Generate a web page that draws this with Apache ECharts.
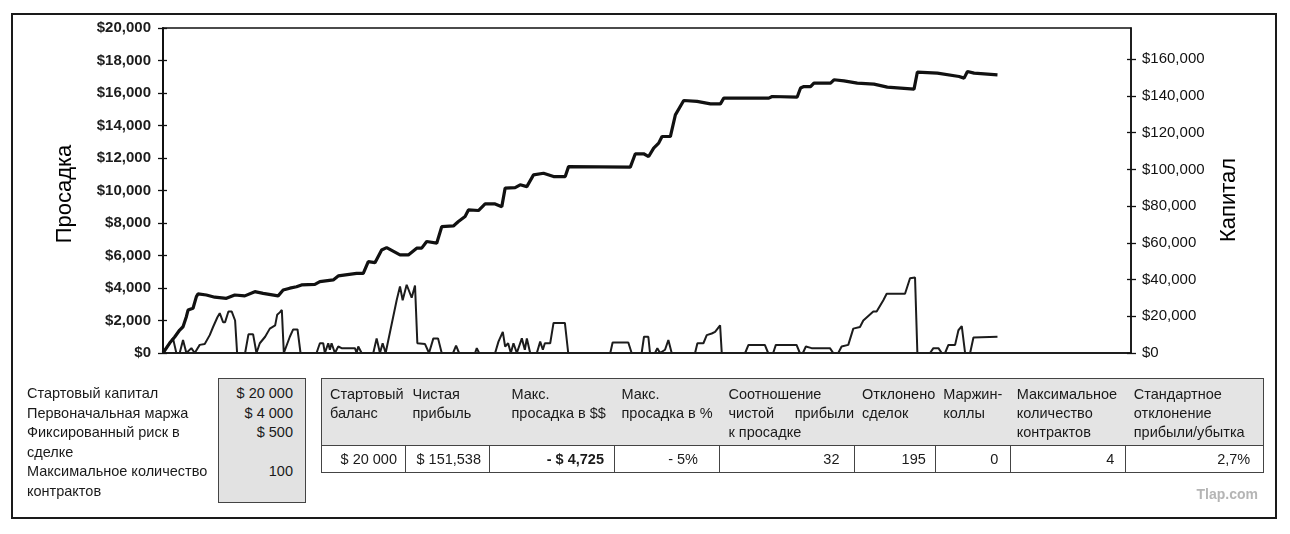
<!DOCTYPE html>
<html>
<head>
<meta charset="utf-8">
<script src="https://cdn.jsdelivr.net/npm/echarts@6/dist/echarts.min.js"></script>
<style>
  body { margin:0; background:#fff; font-family:"Liberation Sans", Arial, sans-serif; color:#1a1a1a; }
  #chartmain { position:absolute; left:0; top:0; width:1290px; height:534px; }
  #frame { position:absolute; left:11px; top:13px; width:1266px; height:506px; border:2px solid #1a1a1a; box-sizing:border-box; pointer-events:none; }
  #params { position:absolute; left:27px; top:384px; font-size:14.5px; line-height:19.6px; white-space:nowrap; }
  #paramBox { position:absolute; left:218px; top:378px; width:88px; height:125px; box-sizing:border-box; background:#e2e2e2; border:1px solid #444;
              padding:5px 12px 0 0; text-align:right; font-size:14.5px; line-height:19.6px; }
  #stats { position:absolute; left:321px; top:378px; border-collapse:collapse; table-layout:fixed; font-size:14.5px; }
  #stats th { background:#e4e4e4; border-top:1px solid #444; border-bottom:1px solid #444; font-weight:normal; text-align:left;
              vertical-align:top; padding:6px 0 0 8px; line-height:19px; height:60px; white-space:nowrap; }
  #stats td { border:1px solid #444; text-align:right; height:26px; padding:0; vertical-align:middle; white-space:nowrap; }
  #mark { position:absolute; right:32px; top:486px; font-size:14px; font-weight:bold; color:#b5b5b5; }
</style>
</head>
<body>
<div id="chartmain"></div>
<div id="params"></div>
<div id="paramBox"></div>
<table id="stats"></table>
<div id="mark">Tlap.com</div>
<div id="frame"></div>
<script>
// кривая капитала (правая ось): номер сделки / значение
var eqT = [0,2,3.5,5,6,7,7.5,9,10,10.5,13,15.5,19,21.5,24.5,27.5,30,34.5,36,38,40,41.5,45.5,47,51,52.5,58,60,61.5,63.5,
  65.5,67,71,73.5,76,77.5,79,82,83.5,87,88.5,90.5,91.5,94.5,96.5,99.5,101.5,102.5,105.5,107,109,111,114,117,120.5,121.5,140,141.5,144,145.5,
  147,148.5,149.5,152,153.5,156,160,164,167,168,181.5,182.5,190,191,192,194,195,200,201,204,208,213,217,225,225.5,226,232,238.5,240,241,243,250];
var eqV = [0,5400,8700,12500,14300,19800,23400,24400,30700,32200,31600,30400,29800,31600,31100,33400,32500,31100,34300,35300,
  36100,37100,37400,38900,39800,42000,43400,43400,49800,49200,56100,57400,53400,53400,57100,57100,60700,59800,68800,69200,
  71600,74300,77900,77600,81200,81200,79700,89800,90100,91600,90600,97000,97900,96100,96100,101500,101200,108500,108500,107000,
  111600,114300,117900,117900,129700,137500,137000,135700,135700,138800,138800,139700,139400,144300,145100,145100,147000,147000,148800,148200,
  147000,146400,144800,143700,143300,153000,152400,150600,149700,153300,152400,151500];

// просадка (левая ось)
var ddT = [0,2,3,4,5,6,7,8.5,9.5,11,12.5,14,15,16.3,17,18,18.6,19.6,20.6,21.6,22.2,24.6,25.6,27,28,29,30.6,32,33.6,34.2,
  35,35.6,36.2,38,39,40.3,41.2,46,47,48,48.5,49.5,50,50.5,51.5,52.5,53.5,57.5,58,58.5,59.5,63,64,65,65.8,66.7,70,71,71.8,73,
  74.5,75.5,76.2,78.5,79.7,81,82.4,83.5,86.9,87.8,88.7,93.5,94,94.7,99.5,100.5,101.8,102.5,103.4,104.2,
  105,106,107.5,108.4,109,110,112,113,113.8,114.4,116,117,120.4,121.4,134,134.7,139.4,140.4,143.4,144.1,
  145.4,145.9,147.4,148.1,148.9,150.4,151.4,152.4,159.4,160.1,161.9,162.9,164.4,165.4,166.9,167.4,174.4,175.4,180.3,181.3,
  182.8,183.6,189.8,190.8,191.7,192.6,194.3,199.8,200.8,202.3,203.3,205.3,206.8,208.8,209.8,212.8,213.8,215.8,216.8,222.3,
  223.8,225.3,226,229.8,230.8,232.3,233.3,234.3,235.3,237.3,238.3,239.3,239.8,240.3,241.8,242.8,243.3,250];
var ddV = [0,600,900,0,0,800,0,300,0,500,550,1100,1600,2200,2450,1900,1900,2550,2550,2000,
  0,0,1150,1150,0,600,1000,1500,1700,2350,2500,2650,0,1000,1450,1450,0,0,600,600,
  0,600,200,600,0,400,300,300,0,400,0,0,900,0,600,0,3250,4100,3250,4200,
  3400,4150,600,550,0,900,900,0,0,450,0,0,300,0,0,700,1300,400,600,0,
  600,0,900,200,900,0,0,700,200,600,600,1850,1850,0,0,650,650,0,0,1000,
  1000,0,0,300,0,200,800,0,0,600,600,1100,1200,1300,1700,0,0,500,500,0,
  0,500,500,0,0,400,300,300,0,0,400,500,1500,1600,2000,2550,2550,3250,3650,3650,
  4600,4650,0,0,300,300,0,0,500,500,1400,1650,1700,0,0,950,1000,1000];

// деления правой оси
var rightTicks = [0,20000,40000,60000,80000,100000,120000,140000,160000];

// таблицы
var paramNames = ['Стартовый капитал','Первоначальная маржа','Фиксированный риск в','сделке','Максимальное количество','контрактов'];
var paramVals = ['$ 20 000','$ 4 000','$ 500','','100',''];
var headCols = ['Стартовый\nбаланс','Чистая\nприбыль','Макс.\nпросадка в $$','Макс.\nпросадка в %','Соотношение\nчистой прибыли\nк просадке',
  'Отклонено\nсделок','Маржин-\nколлы','Максимальное\nколичество\nконтрактов','Стандартное\nотклонение\nприбыли/убытка'];
var rowVals = ['$ 20 000','$ 151,538','- $ 4,725','- 5%','32','195','0','4','2,7%'];
var colW = [84,84,125,105,134.5,80,75.5,115,138];

function zip(a,b){ var r=[]; for(var i=0;i<a.length;i++){ r.push([a[i],b[i]]); } return r; }
function money(v){ return '$' + v.toLocaleString('en-US'); }

// левый блок параметров
document.getElementById('params').innerHTML = paramNames.join('<br>');
document.getElementById('paramBox').innerHTML = paramVals.map(function(v){ return v || '&nbsp;'; }).join('<br>');

// таблица статистики
var padL = [8,7,22,7,9,8,8,6,8];
var padR = [8,8,10,21,14,9,12,11,13];
var html = '<colgroup>';
for (var i=0;i<colW.length;i++){ html += '<col style="width:'+colW[i]+'px">'; }
html += '</colgroup><tr>';
for (var i=0;i<headCols.length;i++){
  var lines = headCols[i].split('\n');
  var txt = lines.map(function(l){
    if (l === 'чистой прибыли') return '<span style="display:block;text-align:justify;text-align-last:justify">'+l+'</span>';
    return l + '<br>';
  }).join('');
  var st = 'padding-left:'+padL[i]+'px;';
  if (i===0) st += 'border-left:1px solid #444;';
  if (i===headCols.length-1) st += 'border-right:1px solid #444;';
  html += '<th style="'+st+'">'+txt+'</th>';
}
html += '</tr><tr>';
for (var i=0;i<rowVals.length;i++){
  var st = 'padding-right:'+padR[i]+'px;' + (i===2 ? 'font-weight:bold;' : '');
  html += '<td style="'+st+'">'+rowVals[i]+'</td>';
}
html += '</tr>';
document.getElementById('stats').innerHTML = html;

var myChart = echarts.init(document.getElementById('chartmain'));
myChart.setOption({
  backgroundColor:'#fff',
  animation:false,
  grid:{ left:163, top:28, width:968, height:325, show:true, borderColor:'#111', borderWidth:1.5 },
  xAxis:{ type:'value', min:0, max:290, axisLabel:{show:false}, axisTick:{show:false}, splitLine:{show:false},
          axisLine:{ show:true, onZero:false, lineStyle:{color:'#111', width:1.5} } },
  yAxis:[
    { type:'value', position:'left', min:0, max:20000, interval:2000,
      axisLine:{show:true, lineStyle:{color:'#111', width:2}},
      axisTick:{show:true, length:5, lineStyle:{color:'#111', width:1.3}},
      axisLabel:{ margin:12, formatter:money, fontFamily:'Liberation Sans', fontSize:15, fontWeight:'bold', color:'#1c1c1c' },
      splitLine:{show:false} },
    { type:'value', position:'left', min:0, max:20000, interval:2000,
      axisLine:{show:false}, axisLabel:{show:false}, splitLine:{show:false},
      axisTick:{show:true, inside:true, length:4, lineStyle:{color:'#111', width:1.3}} },
    { type:'value', position:'right', min:0, max:177000, interval:20000,
      axisLine:{show:true, lineStyle:{color:'#111', width:1.5}},
      axisTick:{show:true, length:5, customValues:rightTicks, lineStyle:{color:'#111', width:1.3}},
      axisLabel:{ margin:11, customValues:rightTicks, fontFamily:'Liberation Sans', fontSize:15, color:'#111',
        formatter:function(v){ return v % 20000 === 0 ? money(v) : ''; } },
      splitLine:{show:false} },
    { type:'value', position:'right', min:0, max:177000, interval:20000,
      axisLine:{show:false}, axisLabel:{show:false}, splitLine:{show:false},
      axisTick:{show:true, inside:true, length:4, customValues:rightTicks, lineStyle:{color:'#111', width:1.3}} }
  ],
  graphic:[
    { type:'text', x:65, y:194, rotation:Math.PI/2,
      style:{ text:'Просадка', fontFamily:'Liberation Sans', fontSize:22, fill:'#000', align:'center', verticalAlign:'middle' } },
    { type:'text', x:1229, y:200, rotation:Math.PI/2,
      style:{ text:'Капитал', fontFamily:'Liberation Sans', fontSize:22, fill:'#000', align:'center', verticalAlign:'middle' } }
  ],
  series:[
    { name:'Просадка', type:'line', yAxisIndex:0, data:zip(ddT, ddV), symbol:'none',
      lineStyle:{ color:'#1c1c1c', width:2 } },
    { name:'Капитал', type:'line', yAxisIndex:2, data:zip(eqT, eqV), symbol:'none',
      lineStyle:{ color:'#111', width:3.2 } }
  ]
});
</script>
</body>
</html>
